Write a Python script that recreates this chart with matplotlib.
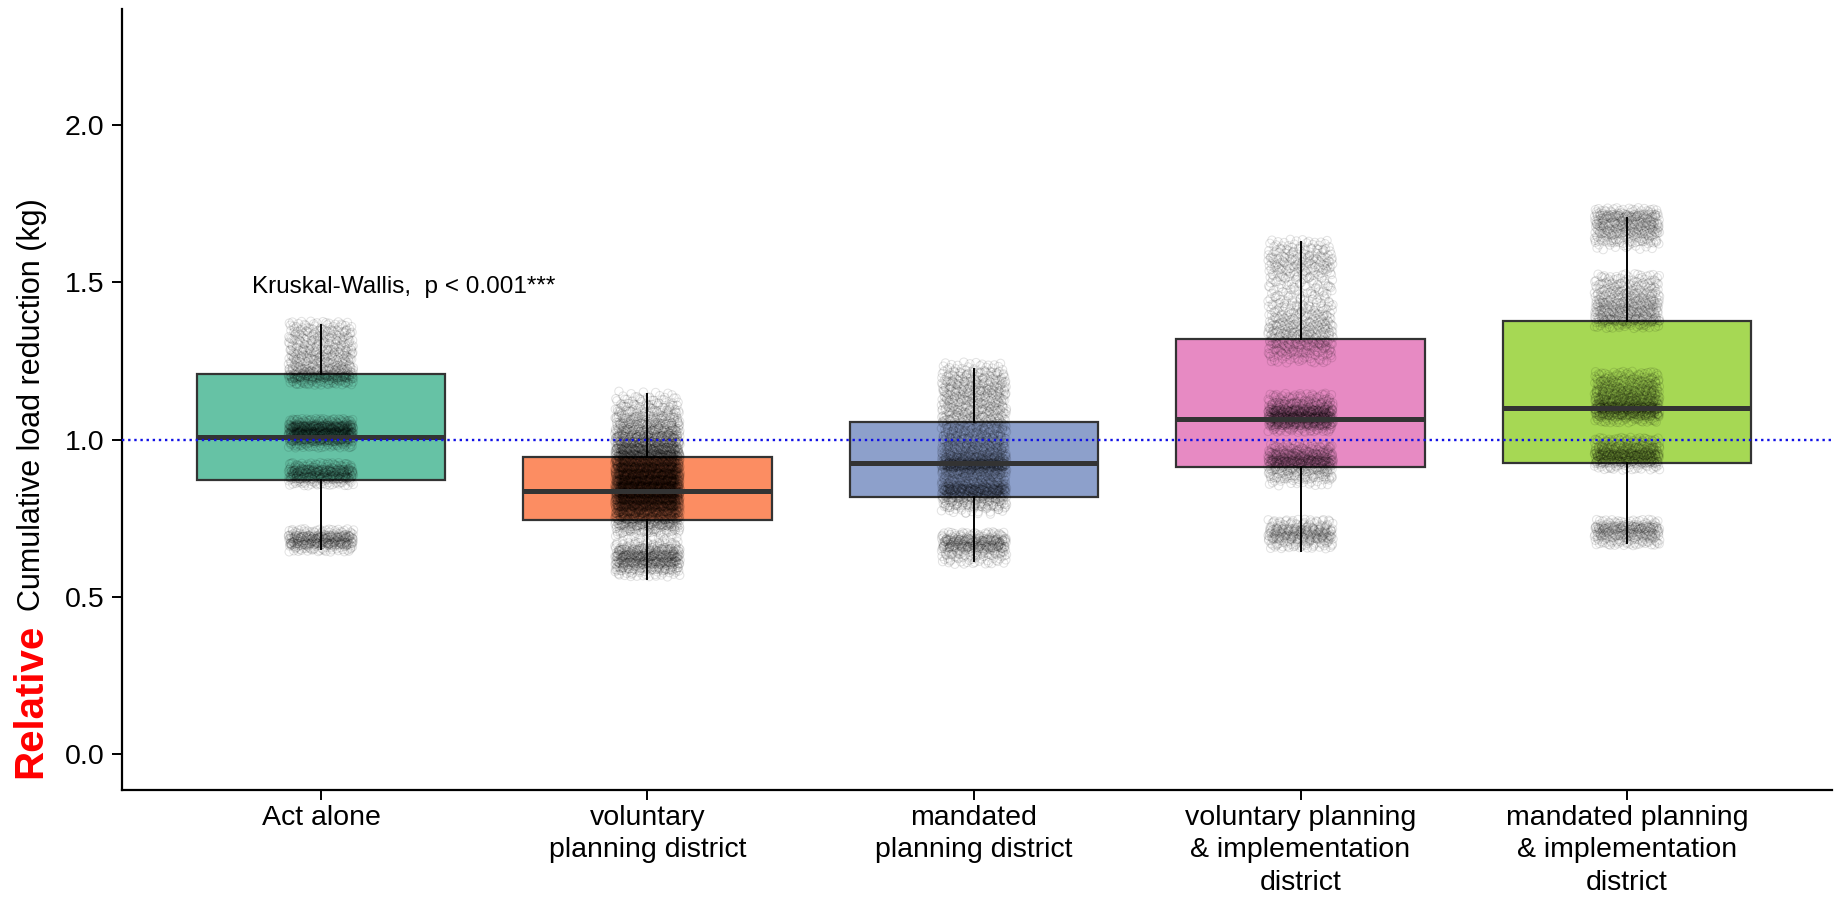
import matplotlib
matplotlib.use("Agg")
import matplotlib.pyplot as plt
import numpy as np

plt.rcParams["font.family"] = ["Liberation Sans", "DejaVu Sans"]

GROUPS = ["Act alone", "voluntary\nplanning district", "mandated\nplanning district",
          "voluntary planning\n& implementation\ndistrict",
          "mandated planning\n& implementation\ndistrict"]
FILLS = ["#66C2A5", "#FC8D62", "#8DA0CB", "#E78AC3", "#A6D854"]

# box summaries per group
WHISLO = [0.651, 0.557, 0.615, 0.647, 0.672]
Q1 = [0.871, 0.746, 0.818, 0.912, 0.926]
MEDIAN = [1.009, 0.836, 0.924, 1.066, 1.100]
Q3 = [1.208, 0.945, 1.057, 1.320, 1.376]
WHISHI = [1.364, 1.145, 1.223, 1.628, 1.705]

# simulated outcomes: value levels and how many runs land on each
LEVELS_1 = [1.36, 1.33, 1.30, 1.27, 1.24, 1.21, 1.19,
            1.05, 1.03, 1.01, 0.99,
            0.91, 0.89, 0.87,
            0.70, 0.68, 0.66]
COUNTS_1 = [45, 60, 60, 75, 75, 120, 90,
            120, 240, 180, 90,
            90, 150, 75,
            75, 150, 75]
LEVELS_2 = [1.14, 1.12, 1.10, 1.08, 1.06, 1.04, 1.02, 1.00, 0.98, 0.96, 0.94,
            0.92, 0.90, 0.88, 0.86, 0.84, 0.82, 0.80, 0.78, 0.76, 0.74, 0.72, 0.70,
            0.66, 0.64, 0.62, 0.60, 0.58]
COUNTS_2 = [15, 24, 36, 45, 60, 75, 90, 120, 135, 165, 195,
            225, 240, 255, 270, 285, 270, 240, 195, 150, 105, 60, 30,
            60, 105, 135, 90, 45]
LEVELS_3 = [1.23, 1.20, 1.17, 1.14, 1.11, 1.08, 1.05, 1.02, 0.99, 0.96, 0.93,
            0.91, 0.88, 0.85, 0.83, 0.80, 0.78,
            0.69, 0.67, 0.65, 0.62]
COUNTS_3 = [30, 60, 75, 75, 75, 75, 75, 75, 90, 105, 180,
            150, 90, 135, 150, 75, 30,
            75, 120, 75, 45]
LEVELS_4 = [1.62, 1.59, 1.56, 1.53, 1.50, 1.47, 1.44, 1.41, 1.38, 1.35, 1.32, 1.29, 1.26,
            1.13, 1.10, 1.08, 1.06, 1.04,
            0.97, 0.94, 0.92, 0.89, 0.87,
            0.73, 0.70, 0.67]
COUNTS_4 = [30, 45, 60, 45, 30, 30, 36, 45, 60, 75, 75, 60, 36,
            60, 105, 180, 150, 75,
            75, 150, 120, 60, 30,
            60, 135, 60]
LEVELS_5 = [1.72, 1.70, 1.67, 1.64, 1.62,
            1.51, 1.48, 1.45, 1.42, 1.39, 1.37,
            1.20, 1.17, 1.14, 1.11, 1.09, 1.07,
            0.99, 0.96, 0.94, 0.92,
            0.73, 0.71, 0.68]
COUNTS_5 = [60, 90, 105, 60, 24,
            45, 60, 75, 105, 90, 60,
            60, 90, 120, 150, 135, 75,
            75, 135, 120, 60,
            60, 120, 75]
LEVELS = [LEVELS_1, LEVELS_2, LEVELS_3, LEVELS_4, LEVELS_5]
COUNTS = [COUNTS_1, COUNTS_2, COUNTS_3, COUNTS_4, COUNTS_5]

REFERENCE = 1.0
TEST_LABEL = "Kruskal-Wallis,  p < 0.001***"


def halton(n, base):
    # radical-inverse sequence: evenly filled [0, 1) offsets, no RNG
    out = np.zeros(n)
    for k in range(n):
        f, r, i = 1.0, 0.0, k + 1
        while i > 0:
            f /= base
            r += f * (i % base)
            i //= base
        out[k] = r
    return out


fig = plt.figure(figsize=(18.45, 9.06), dpi=100)
ax = fig.add_axes([0.0661, 0.128, 0.9269, 0.8616])
pos = np.arange(1, len(GROUPS) + 1)

stats = [dict(whislo=WHISLO[i], q1=Q1[i], med=MEDIAN[i], q3=Q3[i], whishi=WHISHI[i],
              fliers=[]) for i in range(len(GROUPS))]
art = ax.bxp(stats, positions=pos, widths=0.76, showcaps=False, patch_artist=True,
             boxprops=dict(edgecolor="#333333", linewidth=1.6),
             whiskerprops=dict(color="black", linewidth=1.4),
             medianprops=dict(color="#333333", linewidth=3.6, solid_capstyle="butt"))
for patch, c in zip(art["boxes"], FILLS):
    patch.set_facecolor(c)
    patch.set_zorder(1)
for w in art["whiskers"]:
    w.set_zorder(4)
for m in art["medians"]:
    m.set_zorder(5)

# jittered runs, hollow circles
for i, (lv, ct) in enumerate(zip(LEVELS, COUNTS)):
    y = np.repeat(lv, ct).astype(float)
    n = len(y)
    xs = pos[i] + (halton(n, 2) - 0.5) * 0.20
    ys = y + (halton(n, 3) - 0.5) * 0.034
    ax.scatter(xs, ys, s=36, facecolors="none", edgecolors="black",
               linewidths=0.75, alpha=0.11, zorder=3)

ax.axhline(REFERENCE, color="#1010E6", linestyle=(0, (1, 1.6)), linewidth=1.7, zorder=6)

ax.text(0.79, 1.485, TEST_LABEL, fontsize=17.5, ha="left", va="center")

ax.set_xlim(0.3905, 5.628)
ax.set_ylim(-0.113, 2.366)
ax.set_yticks([0.0, 0.5, 1.0, 1.5, 2.0])
ax.set_yticklabels(["0.0", "0.5", "1.0", "1.5", "2.0"])
ax.set_xticks(pos)
ax.set_xticklabels(GROUPS, linespacing=1.33)
ax.tick_params(axis="both", labelsize=20.5, length=7.5, width=1.4, color="black",
               labelcolor="black")
ax.tick_params(axis="y", pad=5)
ax.tick_params(axis="x", pad=3)
ax.spines[["top", "right"]].set_visible(False)
ax.spines[["left", "bottom"]].set_linewidth(1.6)

fig.text(0.0175, 0.553, "Cumulative load reduction (kg)", rotation=90,
         fontsize=22, ha="center", va="center")
fig.text(0.0165, 0.226, "Relative", rotation=90, fontsize=29, fontweight="bold",
         color="red", ha="center", va="center")

fig.savefig("out.png", dpi=100)
